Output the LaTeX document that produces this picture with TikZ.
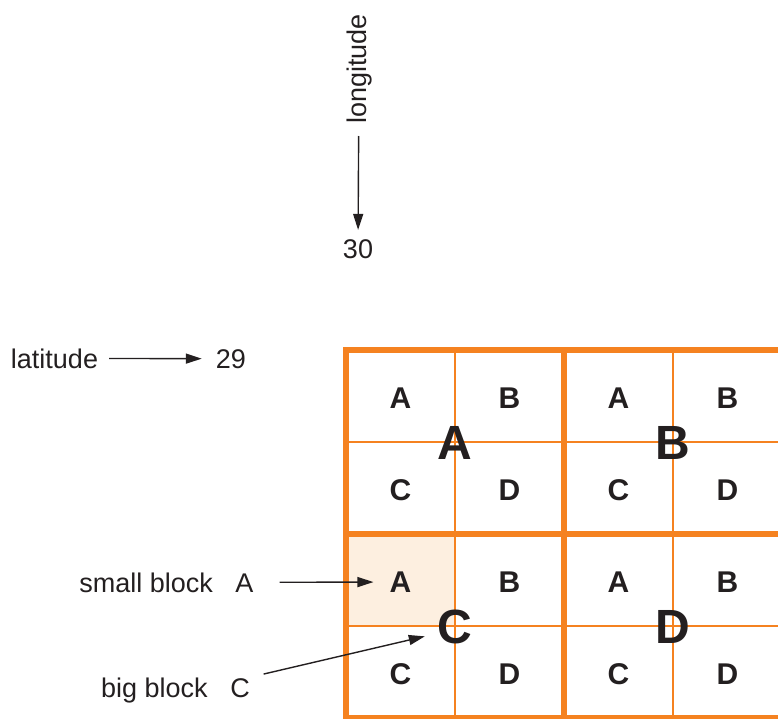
\documentclass[tikz,border=0pt]{standalone}
\usepackage{fontspec}
\setmainfont{Liberation Sans}
\usepackage{xcolor}
\usepackage{tikz}
\usetikzlibrary{arrows.meta,positioning}

\definecolor{gridorange}{RGB}{245,130,32}
\definecolor{cellfill}{RGB}{253,239,224}
\definecolor{inkgray}{RGB}{35,31,32}

\begin{document}
\begin{tikzpicture}[
    x=1pt, y=-1pt,
    lbltext/.style={inner sep=0, text=inkgray, font=\fontsize{27}{31}\selectfont, anchor=base},
    cellletter/.style={inner sep=0, text=inkgray, font=\fontsize{30}{34}\selectfont\bfseries},
    blockletter/.style={inner sep=0, text=inkgray, font=\fontsize{48}{52}\selectfont\bfseries},
    thinline/.style={gridorange, line width=2pt},
    thickline/.style={gridorange, line width=6pt},
    arrow/.style={-{Triangle[length=16pt,width=10pt]}, line width=1.4pt, inkgray}
]
    \useasboundingbox (0,0) rectangle (778,718);
    \clip (0,0) rectangle (778,718);

    % axis labels
    \node[lbltext, rotate=90] (longitude) at (366,69) {longitude};
    \node[lbltext] (lon30) at (358,258) {30};
    \node[lbltext] (latitude) at (54.5,368) {latitude};
    \node[lbltext] (lat29) at (231,368) {29};

    % highlighted small block
    \fill[cellfill] (346,534) rectangle (455,626);

    % big blocks with their small blocks
    \foreach \blk/\bx/\by in {A/346/350, B/564/350, C/346/534, D/564/534} {
        \draw[thinline] (\bx+109,\by) -- +(0,184);
        \draw[thinline] (\bx,\by+92) -- +(218,0);
        \draw[thickline] (\bx,\by) rectangle +(218,184);
        \node[cellletter] (\blk-A) at (\bx+54.5,\by+48) {A};
        \node[cellletter] (\blk-B) at (\bx+163.5,\by+48) {B};
        \node[cellletter] (\blk-C) at (\bx+54.5,\by+140) {C};
        \node[cellletter] (\blk-D) at (\bx+163.5,\by+140) {D};
        \node[blockletter] (big-\blk) at (\bx+109,\by+93) {\blk};
    }

    % callouts
    \node[lbltext] (smallblock) at (166.5,592) {small block~~~A};
    \node[lbltext] (bigblock) at (175.5,697) {big block~~~C};

    \draw[arrow, shorten <=12pt, shorten >=9pt] (longitude) -- (lon30);
    \draw[arrow, shorten <=11pt, shorten >=14pt] (latitude) -- (lat29);
    \draw[arrow, shorten <=26pt, shorten >=16pt] (smallblock.east) -- (C-A.west);
    \draw[arrow, shorten <=14pt, shorten >=13pt] (bigblock.north east) -- (big-C.200);
\end{tikzpicture}
\end{document}
